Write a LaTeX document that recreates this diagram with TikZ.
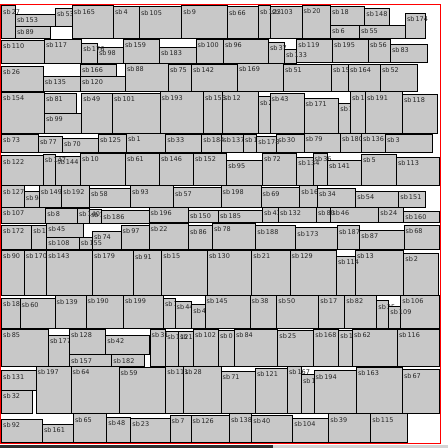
\documentclass[tikz,border=0pt]{standalone}
\usepackage{fontspec}
\setmainfont{DejaVu Sans}
\definecolor{boxgray}{HTML}{C8C8C8}
\definecolor{bardark}{HTML}{2E2E2E}
\definecolor{barlight}{HTML}{D4D4D4}
\newcommand\mybox[5]{\draw[boxst] (#1,#2) rectangle (#3,#4); \node[lab] (n#5) at ({#1+1.5},{#2+8.5}) {sb\,#5};}
\begin{document}
\begin{tikzpicture}[x=1pt,y=-1pt,
  boxst/.style={fill=boxgray,draw=black,line width=0.9pt},
  lab/.style={anchor=base west,inner sep=0pt,font=\fontsize{6.5}{7}\selectfont,text=black!85}]
\useasboundingbox (0,0) rectangle (448,448);
\fill[white] (0,0) rectangle (448,448);
% row 1
\mybox{1.5}{5.5}{15.3}{38.3}{27}
\mybox{15.3}{14.3}{55.3}{26.3}{153}
\mybox{15.3}{26.3}{50.3}{38.3}{89}
\mybox{55.3}{8.3}{72.3}{26.3}{53}
\mybox{72.3}{5.5}{113.3}{38.3}{165}
\mybox{113.3}{6}{139.3}{38.3}{4}
\mybox{139.3}{6.7}{181.7}{38.3}{105}
\mybox{181.7}{5.5}{227.3}{38.3}{9}
\mybox{227.3}{6.7}{258.3}{38.3}{66}
\mybox{270}{6}{302}{38.3}{103}
\mybox{258.3}{5.5}{270}{38.3}{123}
\mybox{302}{5.3}{330.3}{38.3}{20}
\mybox{330.3}{6}{364.7}{25}{18}
\mybox{364.7}{8.3}{389.7}{25}{148}
\mybox{330.3}{25}{359.3}{38.3}{6}
\mybox{359.3}{25}{405.3}{38.3}{55}
\mybox{405.3}{13.3}{425.7}{38.3}{174}
% row 2
\mybox{1.5}{40.3}{44.3}{63.3}{110}
\mybox{44.3}{39.3}{81.7}{63.3}{117}
\mybox{97.3}{47}{123.3}{63.3}{98}
\mybox{81.7}{43.3}{97.3}{63.3}{176}
\mybox{123.3}{39.3}{159.3}{63.3}{159}
\mybox{159.3}{47.3}{196}{63.3}{183}
\mybox{196}{39}{223.3}{63.3}{100}
\mybox{223.3}{39}{268.3}{63.3}{96}
\mybox{268.3}{42.3}{284.3}{63.3}{37}
\mybox{296.7}{39.3}{332.3}{62.7}{119}
\mybox{284.3}{49.3}{296.7}{63.3}{133}
\mybox{332.3}{39.3}{368.3}{62.7}{195}
\mybox{368.3}{39.3}{390.3}{62.7}{56}
\mybox{390.3}{44.3}{427.3}{62.7}{83}
% row 3
\mybox{1.5}{66.3}{43.3}{91}{26}
\mybox{43.3}{76.3}{80.3}{91}{135}
\mybox{80.3}{64.3}{116.3}{76.3}{166}
\mybox{80.3}{76.3}{125.3}{91}{120}
\mybox{125.3}{63.3}{168.3}{91}{88}
\mybox{168.3}{64.3}{191.3}{91}{75}
\mybox{191.3}{64.3}{237.3}{91}{142}
\mybox{237.3}{63.3}{283.3}{91}{169}
\mybox{283.3}{64.3}{331.3}{91}{51}
\mybox{331.3}{64.3}{348.3}{91}{158}
\mybox{348.3}{64.3}{380.3}{91}{164}
\mybox{380.3}{64.3}{417.3}{91}{52}
% row 4
\mybox{1.5}{92.3}{44.3}{133.3}{154}
\mybox{44.3}{93.3}{76.7}{113.3}{81}
\mybox{44.3}{113.3}{81.7}{133.3}{99}
\mybox{81.7}{93.3}{112.3}{133.3}{49}
\mybox{112.3}{93.3}{160}{133.3}{101}
\mybox{160}{91.7}{203.3}{133.3}{193}
\mybox{222.3}{91.7}{258.3}{133.3}{12}
\mybox{203.3}{91.7}{222.3}{133.3}{156}
\mybox{258.3}{96.7}{270}{133.3}{29}
\mybox{270}{93.3}{304}{133.3}{43}
\mybox{304}{98.3}{338.7}{133.3}{171}
\mybox{338.7}{103.3}{350.3}{133.3}{124}
\mybox{350.3}{91.7}{365.3}{133.3}{181}
\mybox{365.3}{91.7}{402.3}{133.3}{191}
\mybox{402.3}{94.3}{437.3}{133.3}{118}
% row 5
\mybox{1.5}{134.3}{38.3}{152}{73}
\mybox{38.3}{136}{62.3}{152}{77}
\mybox{62.3}{138.3}{98.3}{152}{70}
\mybox{98.3}{134.3}{126.3}{152}{125}
\mybox{126.3}{133.3}{165.7}{152}{1}
\mybox{165.7}{134.3}{201.7}{152}{33}
\mybox{221.7}{134.3}{243.3}{152}{137}
\mybox{201.7}{134.3}{221.7}{152}{184}
\mybox{243.3}{134.3}{256.7}{152}{19}
\mybox{276.7}{134.3}{304}{152}{30}
\mybox{256.7}{136}{276.7}{152}{178}
\mybox{304}{133.3}{340.3}{152}{79}
\mybox{340.3}{133.3}{361.3}{152}{180}
\mybox{361.3}{133.3}{385.3}{152}{136}
\mybox{385.3}{134.3}{432.3}{152}{3}
% row 6
\mybox{1.5}{155.7}{43.3}{185}{122}
\mybox{55.7}{156.3}{80.3}{185}{144}
\mybox{43.3}{154.3}{55.7}{185}{147}
\mybox{80.3}{153.3}{125.3}{185}{10}
\mybox{125.3}{153.3}{159.3}{185}{61}
\mybox{159.3}{153}{193.3}{185}{146}
\mybox{193.3}{153}{226.7}{185}{152}
\mybox{226.7}{160}{262.3}{185}{95}
\mybox{262.3}{153}{296.7}{185}{72}
\mybox{313}{153.3}{327.3}{185}{36}
\mybox{296.7}{157.3}{313}{185}{134}
\mybox{327.3}{160}{361.3}{185}{141}
\mybox{361.3}{154.3}{396.3}{185}{5}
\mybox{396.3}{157.3}{439}{185}{113}
% row 7
\mybox{1.5}{185.7}{24.3}{207.3}{127}
\mybox{24.3}{191.7}{39.3}{207.3}{94}
\mybox{39.3}{185.7}{61.7}{207.3}{149}
\mybox{61.7}{185.7}{89.3}{207.3}{192}
\mybox{89.3}{188.3}{130.3}{207.3}{58}
\mybox{130.3}{185.7}{173.3}{207.3}{93}
\mybox{173.3}{187.7}{221}{207.3}{57}
\mybox{221}{185.7}{261}{207.3}{198}
\mybox{261}{187.7}{299.7}{207.3}{69}
\mybox{299.7}{185.7}{317.3}{207.3}{162}
\mybox{317.3}{188.3}{355.7}{207.3}{34}
\mybox{355.7}{191}{398.7}{207.3}{54}
\mybox{398.7}{191}{425.7}{207.3}{151}
% row 8
\mybox{1.5}{207.3}{45.7}{223.3}{107}
\mybox{45.7}{208.3}{77.3}{223.3}{8}
\mybox{89.3}{209.3}{101.7}{223.3}{175}
\mybox{77.3}{208.3}{89.3}{223.3}{140}
\mybox{101.7}{210.7}{149}{223.3}{186}
\mybox{149}{207.3}{188.3}{222.7}{196}
\mybox{188.3}{210}{218.3}{222.7}{150}
\mybox{218.3}{210}{262.3}{222.7}{185}
\mybox{262.3}{207.3}{278.3}{222.7}{41}
\mybox{278.3}{207.3}{316.3}{222.7}{132}
\mybox{330.7}{207.3}{378.7}{222.7}{46}
\mybox{316.3}{207.3}{330.7}{222.7}{80}
\mybox{378.7}{207.3}{403.7}{222.7}{24}
\mybox{403.7}{211}{439}{222.7}{160}
% row 9
\mybox{1.5}{225}{31.7}{249}{172}
\mybox{31.7}{225}{46.7}{249}{14}
\mybox{46.7}{223.3}{83.3}{237.3}{45}
\mybox{46.7}{237.3}{79.3}{249}{108}
\mybox{92.3}{231}{121}{249}{74}
\mybox{79.3}{237.3}{92.3}{249}{155}
\mybox{121}{225}{149}{249}{97}
\mybox{149}{223.3}{188.3}{249}{22}
\mybox{188.3}{225.7}{212.3}{249}{86}
\mybox{212.3}{223.3}{255.7}{249}{78}
\mybox{255.7}{225.7}{295.7}{249}{188}
\mybox{295.7}{227.7}{337.3}{249}{173}
\mybox{337.3}{225.7}{359.7}{249}{187}
\mybox{359.7}{230}{404}{249}{87}
\mybox{404}{225}{439}{249}{68}
% row 10
\mybox{1.5}{250}{24.3}{295}{90}
\mybox{24.3}{250}{46.7}{295}{170}
\mybox{46.7}{250}{92.3}{295}{143}
\mybox{92.3}{250}{133.3}{295}{179}
\mybox{133.3}{250.7}{161.7}{295}{91}
\mybox{161.7}{250}{207.3}{295}{15}
\mybox{207.3}{250}{251.7}{295}{130}
\mybox{251.7}{250}{290}{295}{21}
\mybox{290}{250}{336.3}{295}{129}
\mybox{355.3}{250}{403.7}{295}{13}
\mybox{336.3}{256}{355.3}{295}{114}
\mybox{403.7}{253.3}{438}{295}{2}
% row 11
\mybox{1.5}{298.3}{20}{328}{189}
\mybox{20}{298.7}{55}{328}{60}
\mybox{55}{295.7}{86}{328}{139}
\mybox{86}{295.3}{123.3}{328}{190}
\mybox{123.3}{295.3}{163.3}{328}{199}
\mybox{163.3}{298.3}{175}{328}{11}
\mybox{175}{301.3}{191.7}{328}{44}
\mybox{191.7}{304.7}{205}{328}{47}
\mybox{205}{295.3}{250}{328}{145}
\mybox{250}{295.3}{276.7}{328}{38}
\mybox{276.7}{295.3}{318.7}{328}{50}
\mybox{318.7}{295.3}{344.7}{328}{17}
\mybox{344.7}{295.3}{376.7}{328}{82}
\mybox{376.7}{300.7}{388.7}{328}{35}
\mybox{400.7}{295.3}{439}{328}{106}
\mybox{388.7}{306.3}{400.7}{328}{109}
% row 12
\mybox{1.5}{329}{48.3}{366.3}{85}
\mybox{48.3}{335.3}{69.3}{366.3}{177}
\mybox{69.3}{329}{105.7}{354.7}{128}
\mybox{105.7}{335.3}{149}{354.7}{42}
\mybox{69.3}{354.7}{111.7}{366.3}{157}
\mybox{111.7}{354.7}{144.3}{366.3}{182}
\mybox{178.3}{331.3}{193.3}{366.3}{16}
\mybox{165.7}{331.3}{178.3}{366.3}{112}
\mybox{150}{329}{165.7}{366.3}{31}
\mybox{193.3}{329}{218.3}{366.3}{102}
\mybox{218.3}{330.3}{234.3}{366.3}{0}
\mybox{234.3}{329}{277.7}{366.3}{84}
\mybox{277.7}{330.3}{313.7}{366.3}{25}
\mybox{313.7}{329}{338.7}{366.3}{168}
\mybox{338.7}{330.3}{352.3}{366.3}{163}
\mybox{352.3}{329}{397.3}{366.3}{62}
\mybox{397.3}{329}{439}{366.3}{116}
% row 13
\mybox{1.5}{370.7}{36}{390.3}{131}
\mybox{1.5}{390.3}{32.3}{413}{32}
\mybox{36}{366.3}{71}{413}{197}
\mybox{71}{366.3}{119}{413}{64}
\mybox{119}{367}{165.7}{413}{59}
\mybox{183.3}{366.3}{221}{413}{28}
\mybox{165.7}{366.3}{183.3}{413}{111}
\mybox{221}{371.3}{255.3}{413}{71}
\mybox{255.3}{368}{287.3}{413}{121}
\mybox{301.3}{374.7}{314}{413}{176}
\mybox{287.3}{366.3}{301.3}{413}{167}
\mybox{314}{370.7}{356.3}{413}{194}
\mybox{356.3}{367}{402.3}{413}{163}
\mybox{402.3}{369.7}{439}{413}{67}
% row 14
\mybox{1.5}{419}{42.3}{442.5}{92}
\mybox{42.3}{424}{73.3}{442.5}{161}
\mybox{73.3}{413.7}{106.7}{442.5}{65}
\mybox{106.7}{417}{130.7}{442.5}{48}
\mybox{130.7}{418}{170}{442.5}{23}
\mybox{170}{415.3}{191}{442.5}{7}
\mybox{191}{415.3}{229.3}{442.5}{126}
\mybox{229.3}{413.7}{251.7}{442.5}{138}
\mybox{251.7}{415.3}{292.7}{442.5}{40}
\mybox{292.7}{418}{328.7}{442.5}{104}
\mybox{328.7}{413.7}{370.7}{442.5}{39}
\mybox{370.7}{413.7}{407.3}{442.5}{115}
% frame and bar
\draw[red,line width=1pt] (0.5,4.5) rectangle (440,443.5);
\fill[bardark] (0,444.6) rectangle (272.7,448);
\fill[barlight] (272.7,444.6) rectangle (448,448);
\end{tikzpicture}
\end{document}
